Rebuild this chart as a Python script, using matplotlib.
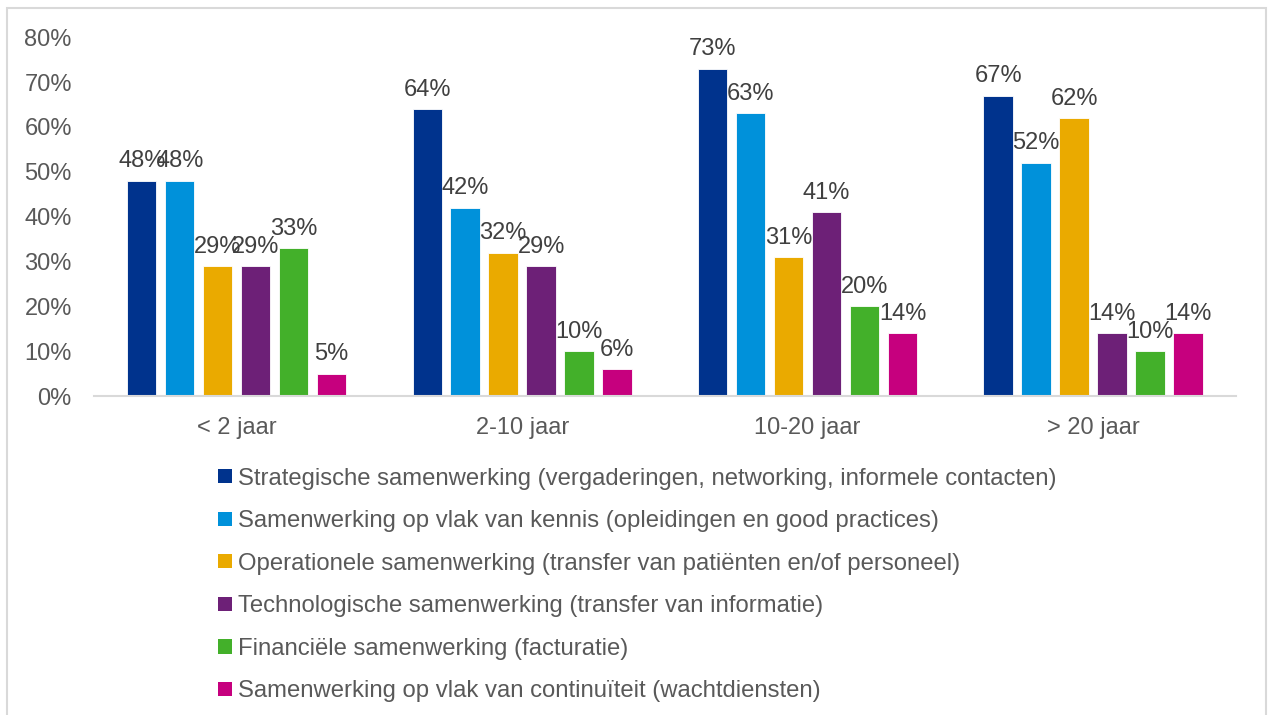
import numpy as np
import matplotlib.pyplot as plt
from matplotlib.patches import Rectangle, Patch

plt.rcParams['font.family'] = ['Liberation Sans', 'DejaVu Sans']

# share of respondents per type of cooperation, by years of cooperation
groups = ['< 2 jaar', '2-10 jaar', '10-20 jaar', '> 20 jaar']
series = [
    'Strategische samenwerking (vergaderingen, networking, informele contacten)',
    'Samenwerking op vlak van kennis (opleidingen en good practices)',
    'Operationele samenwerking (transfer van patiënten en/of personeel)',
    'Technologische samenwerking (transfer van informatie)',
    'Financiële samenwerking (facturatie)',
    'Samenwerking op vlak van continuïteit (wachtdiensten)',
]
strategisch = [48, 64, 73, 67]
kennis = [48, 42, 63, 52]
operationeel = [29, 32, 31, 62]
technologisch = [29, 29, 41, 14]
financieel = [33, 10, 20, 10]
continuiteit = [5, 6, 14, 14]
values = [strategisch, kennis, operationeel, technologisch, financieel, continuiteit]
colors = ['#00338D', '#0091DA', '#EAAA00', '#6D2077', '#43B02A', '#C6007E']

grey = '#595959'
fig = plt.figure(figsize=(12.7, 7.15), dpi=100)
ax = fig.add_axes([0.074, 0.446, 0.899, 0.502])

x = np.arange(len(groups))
pitch = 0.133
width = 0.103
for i, (vals, col) in enumerate(zip(values, colors)):
    pos = x + (i - 2.5) * pitch
    v = np.array(vals) / 100
    ax.bar(pos, v, width, color=col, edgecolor='white', linewidth=0.6)
    for px, pv, lab in zip(pos, v, vals):
        ax.annotate('{}%'.format(lab), (px, pv), xytext=(0, 6),
                    textcoords='offset points', ha='center', va='bottom',
                    fontsize=17, color='#404040')

ax.set_xlim(-0.5, 3.5)
ax.set_ylim(0, 0.8)
ax.set_yticks(np.arange(0, 0.81, 0.1))
ax.set_yticklabels(['{}%'.format(int(round(t * 100))) for t in np.arange(0, 0.81, 0.1)])
ax.set_xticks(x)
ax.set_xticklabels(groups)
ax.tick_params(length=0, labelsize=17, colors=grey)
ax.tick_params(axis='x', pad=15)
ax.tick_params(axis='y', pad=16)
for s in ['left', 'right', 'top']:
    ax.spines[s].set_visible(False)
ax.spines['bottom'].set_color('#D9D9D9')
ax.spines['bottom'].set_linewidth(1.5)

handles = [Patch(facecolor=c, label=s) for c, s in zip(colors, series)]
fig.legend(handles=handles, loc='upper left', bbox_to_anchor=(0.172, 0.346),
           frameon=False, fontsize=17.2, labelcolor=grey, handlelength=0.55,
           handleheight=0.55, handletextpad=0.25, labelspacing=0.86,
           borderpad=0, borderaxespad=0)

# light outline around the chart area
fig.patches.append(Rectangle((7 / 1270, -0.05), 1259 / 1270, 1.05 - 8 / 715,
                             transform=fig.transFigure, fill=False,
                             edgecolor='#D9D9D9', linewidth=1.5))

fig.savefig('out.png', dpi=100)
